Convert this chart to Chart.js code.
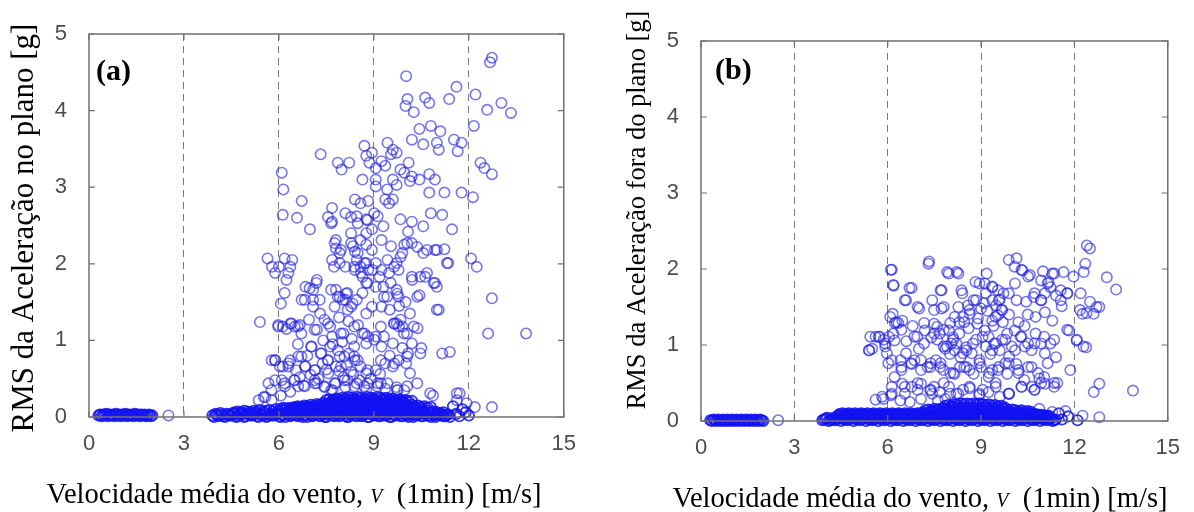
<!DOCTYPE html>
<html lang="pt">
<head>
<meta charset="UTF-8">
<title>RMS da aceleração x velocidade do vento</title>
<script src="https://cdn.jsdelivr.net/npm/chart.js"></script>
<style>
  body { margin: 0; background: #fff; }
  .panel { position: absolute; top: 0; height: 512px; }
  #panelA { left: 0; width: 590px; }
  #panelB { left: 590px; width: 604px; }
</style>
</head>
<body>
<div class="panel" id="panelA"><canvas id="chartA"></canvas></div>
<div class="panel" id="panelB"><canvas id="chartB"></canvas></div>
<script>
const xTicks = [0, 3, 6, 9, 12, 15];
const yTicks = [0, 1, 2, 3, 4, 5];
const xTitle = ['Velocidade média do vento, ', 'V', '  (1min) [m/s]'];
const yTitleA = 'RMS da Aceleração no plano [g]';
const yTitleB = 'RMS da Aceleração fora do plano [g]';

// (a) points standing above the baseline band, [velocity m/s, rms g]
const scatterA = [
  [12.73,4.69],[12.67,4.63],[10.02,4.45],[11.61,4.31],[10.06,4.15],[10.0,4.06],[10.62,4.17],[10.75,4.10],
  [11.38,4.15],[12.21,4.21],[13.03,4.10],[13.33,3.97],[12.58,4.01],[10.26,3.98],[12.16,3.80],[10.44,3.76],
  [10.8,3.80],[11.1,3.73],[10.2,3.62],[10.56,3.56],[10.99,3.58],[11.05,3.49],[11.53,3.62],[11.77,3.58],
  [11.65,3.47],[9.43,3.58],[9.6,3.49],[9.54,3.43],[8.7,3.54],[8.94,3.45],[9.72,3.45],[7.32,3.43],
  [7.86,3.32],[8.22,3.32],[7.98,3.23],[8.76,3.41],[8.86,3.32],[9.24,3.34],[9.36,3.28],[9.06,3.25],
  [10.1,3.32],[9.84,3.23],[9.96,3.19],[10.2,3.14],[10.14,3.08],[10.75,3.17],[10.93,3.10],[10.44,3.10],
  [9.6,3.10],[9.72,3.03],[9.42,2.97],[9.06,3.10],[8.64,3.10],[9.06,3.01],[12.37,3.32],[12.49,3.25],
  [12.73,3.17],[6.09,3.19],[6.14,2.97],[10.75,2.93],[11.23,2.93],[11.77,2.93],[12.13,2.87],[9.36,2.84],
  [9.48,2.79],[9.6,2.84],[8.4,2.84],[8.58,2.79],[8.82,2.82],[6.72,2.82],[7.68,2.73],[8.1,2.66],
  [8.46,2.62],[8.76,2.58],[9.12,2.62],[9.3,2.49],[6.12,2.64],[6.57,2.60],[7.68,2.55],[6.98,2.45],
  [9.84,2.58],[10.2,2.55],[10.08,2.42],[10.56,2.49],[10.8,2.66],[11.16,2.64],[11.47,2.45],[8.28,2.40],
  [8.76,2.40],[8.94,2.45],[9.24,2.31],[8.58,2.31],[7.8,2.31],[7.8,2.20],[7.92,2.14],[8.34,2.23],
  [8.4,2.16],[8.76,2.25],[8.94,2.18],[9.54,2.23],[9.96,2.25],[10.2,2.27],[9.9,2.14],[10.56,2.14],
  [10.93,2.18],[11.23,2.19],[5.64,2.07],[5.78,1.96],[6.18,2.07],[6.42,2.05],[6.36,1.96],[6.0,1.96],
  [5.88,1.88],[6.3,1.88],[6.24,1.79],[7.68,2.05],[7.92,2.01],[7.74,1.96],[8.1,1.96],[8.46,2.05],
  [8.58,1.96],[8.76,2.01],[8.4,1.92],[8.82,1.92],[8.64,1.83],[9.06,2.01],[9.24,1.92],[9.18,1.83],
  [9.72,2.01],[9.78,1.92],[9.48,1.88],[12.07,2.07],[12.25,1.96],[11.35,2.01],[10.2,1.83],[10.62,1.83],
  [10.93,1.75],[10.99,1.70],[7.2,1.79],[6.84,1.70],[7.08,1.66],[6.72,1.53],[7.08,1.53],[6.18,1.62],
  [7.8,1.66],[7.92,1.57],[8.16,1.62],[8.1,1.53],[8.46,1.53],[8.64,1.62],[8.76,1.75],[9.06,1.70],
  [9.3,1.70],[9.72,1.66],[9.78,1.57],[9.42,1.57],[10.44,1.59],[12.73,1.55],[6.06,1.48],[8.28,1.44],
  [8.76,1.35],[8.94,1.44],[9.24,1.44],[5.4,1.24],[11.05,1.40],[10.14,1.35],[6.12,1.18],[6.36,1.22],
  [6.6,1.18],[6.95,1.27],[7.2,1.14],[7.44,1.27],[7.62,1.18],[7.68,1.05],[8.04,1.09],[8.64,1.09],
  [8.76,0.96],[9.06,1.05],[9.24,0.92],[9.6,0.96],[9.72,1.22],[9.9,1.18],[9.84,1.27],[10.38,1.16],
  [12.61,1.09],[13.81,1.09],[10.5,0.90],[10.2,0.96],[10.08,0.83],[11.16,0.83],[11.4,0.85],[7.02,0.92],
  [7.32,0.83],[7.62,0.92],[7.92,0.79],[8.22,0.83],[8.4,0.74],[5.88,0.74],[6.12,0.66],[6.36,0.74],
  [6.54,0.61],[6.84,0.66],[6.66,0.52],[7.14,0.61],[7.38,0.70],[7.56,0.57],[7.8,0.66],[8.04,0.52],
  [8.28,0.59],[8.58,0.66],[8.76,0.57],[9.06,0.61],[9.36,0.70],[9.6,0.66],[9.78,0.74],[10.02,0.70],
  [10.14,0.57],[5.88,0.48],[6.18,0.44],[6.48,0.48],[6.78,0.41],[7.2,0.44],[7.44,0.39],[7.8,0.44],
  [8.1,0.39],[8.46,0.44],[8.76,0.35],[9.12,0.44],[9.36,0.37],[9.72,0.39],[9.96,0.35],[5.52,0.26],
  [5.76,0.35],[6.06,0.28],[6.36,0.33],[10.87,0.28],[11.71,0.31],[12.19,0.13],[12.73,0.13],[2.51,0.02],
  [5.98,1.20],[6.24,1.15],[6.5,1.18],[6.66,1.20],[6.97,1.68],[7.18,1.75],[6.82,1.53],[7.08,1.44],
  [7.29,1.53],[7.65,1.66],[7.86,1.57],[7.76,1.44],[8.02,1.53],[8.12,1.61],[8.33,1.48],[8.17,1.40],
  [7.76,2.27],[7.96,2.18],[8.28,2.27],[8.49,2.14],[8.38,1.96],[8.7,2.01],[8.59,1.88],[8.96,1.92],
  [8.8,1.75],[7.55,2.61],[7.65,2.53],[8.28,2.61],[8.49,2.53],[8.8,2.57],[9.01,2.66],[9.43,2.05],
  [9.64,1.96],[9.84,2.09],[9.53,1.75],[9.74,1.61],[9.32,1.57],[10.21,1.79],[10.47,1.83],[10.68,1.88],
  [10.89,1.75],[10.37,1.57],[10.99,1.40],[10.05,2.27],[10.37,2.22],[10.68,2.18],[10.99,2.18],[11.31,2.01],
  [8.7,1.09],[9.01,1.01],[9.32,1.05],[9.64,1.22],[9.79,1.18],[10.05,1.09],[10.26,1.18],[7.03,0.92],
  [7.34,0.83],[7.55,0.74],[7.86,0.87],[8.07,0.79],[8.38,0.92],[8.49,0.74],[5.77,0.74],[6.03,0.66],
  [6.3,0.70],[6.61,0.79],[6.82,0.66],[5.67,0.44],[6.19,0.40],[6.5,0.48],[6.82,0.40],[7.13,0.48],
  [7.44,0.40],[7.76,0.44],[8.07,0.48],[8.38,0.40],[8.8,0.44],[9.11,0.40],[9.43,0.44],[9.74,0.35],
  [10.05,0.40],[10.37,0.44],[10.78,0.31],[11.62,0.31],[5.36,0.22],[5.57,0.26],[5.77,0.22],[11.62,0.22],
  [11.93,0.18],[7.0,0.55],[7.25,0.50],[7.5,0.62],[7.7,0.35],[7.9,0.60],[8.15,0.68],[8.35,0.55],
  [8.55,0.48],[8.9,0.50],[9.2,0.56],[6.9,0.80],[7.4,1.00],[7.7,0.95],[8.0,0.98],[8.3,1.02],
  [8.5,1.20],[8.2,1.25],[7.9,1.30],[7.3,1.35],[6.6,0.95],[9.5,0.80],[9.9,0.90],[9.5,1.40],
  [9.8,1.45],[10.0,1.50],
  [5.98,1.18],[6.40,1.22],[6.71,1.09],[7.13,1.14],[7.55,1.22],[7.96,1.09],[8.38,1.18],[8.8,1.05],
  [9.22,1.18],[9.64,1.22],[9.95,1.09],[5.88,0.74],[6.30,0.66],[6.71,0.79],[7.13,0.61],[7.55,0.74],
  [7.96,0.66],[8.38,0.79],[8.8,0.61],[9.22,0.74],[9.64,0.70],[10.05,0.79],[10.47,0.83],[6.09,0.48],
  [6.61,0.40],[7.13,0.44],[7.65,0.35],[8.17,0.48],[8.7,0.40],[9.22,0.44],[9.74,0.35]
];

// (a) the crowded band of low readings along zero
const bandA = [
  [0.30,0.02],[0.35,0.03],[0.40,0.01],[0.45,0.03],[0.50,0.02],[0.55,0.04],[0.60,0.01],[0.65,0.03],[0.70,0.02],
  [0.75,0.03],[0.80,0.01],[0.85,0.04],[0.90,0.02],[0.95,0.03],[1.00,0.01],[1.05,0.03],[1.10,0.02],[1.15,0.04],
  [1.20,0.01],[1.25,0.03],[1.30,0.02],[1.35,0.03],[1.40,0.01],[1.45,0.04],[1.50,0.02],[1.55,0.03],[1.60,0.01],
  [1.65,0.03],[1.70,0.02],[1.75,0.03],[1.80,0.01],[1.85,0.02],[1.90,0.03],[1.95,0.01],[2.00,0.02],
  [3.9,0.02],[4.0,0.04],[4.1,0.01],[4.2,0.03],[4.3,0.0],[4.4,0.03],[4.5,0.02],[4.6,0.04],[4.7,0.01],[4.8,0.03],
  [4.9,0.0],[5.0,0.04],[5.1,0.02],[5.2,0.03],[5.3,0.01],[5.4,0.04],[5.5,0.02],[5.6,0.0],[5.7,0.03],[5.8,0.02],
  [5.9,0.04],[6.0,0.01],[6.1,0.03],[6.2,0.0],[6.3,0.04],[6.4,0.02],[6.5,0.03],[6.6,0.01],[6.7,0.04],[6.8,0.02],
  [6.9,0.0],[7.0,0.03],[7.1,0.02],[7.2,0.04],[7.3,0.01],[7.4,0.03],[7.5,0.0],[7.6,0.04],[7.7,0.02],[7.8,0.03],
  [7.9,0.01],[8.0,0.04],[8.1,0.02],[8.2,0.0],[8.3,0.03],[8.4,0.02],[8.5,0.04],[8.6,0.01],[8.7,0.03],[8.8,0.0],
  [8.9,0.04],[9.0,0.02],[9.1,0.03],[9.2,0.01],[9.3,0.04],[9.4,0.02],[9.5,0.0],[9.6,0.03],[9.7,0.02],[9.8,0.04],
  [9.9,0.01],[10.0,0.03],[10.1,0.0],[10.2,0.04],[10.3,0.02],[10.4,0.03],[10.5,0.01],[10.6,0.04],[10.7,0.02],
  [10.8,0.0],[10.9,0.03],[11.0,0.02],[11.1,0.04],[11.2,0.01],[11.3,0.03],[11.4,0.0],
  [3.95,0.0],[4.05,0.03],[4.15,0.05],[4.25,0.01],[4.35,0.04],[4.45,0.02],[4.55,0.05],[4.65,0.0],[4.75,0.03],
  [4.85,0.05],[4.95,0.01],[5.05,0.04],[5.15,0.02],[5.25,0.05],[5.35,0.0],[5.45,0.03],[5.55,0.05],[5.65,0.01],
  [5.75,0.04],[5.85,0.02],[5.95,0.05],[6.05,0.0],[6.15,0.03],[6.25,0.05],[6.35,0.01],[6.45,0.04],[6.55,0.02],
  [6.65,0.05],[6.75,0.0],[6.85,0.03],[6.95,0.05],[7.05,0.01],[7.15,0.04],[7.25,0.02],[7.35,0.05],[7.45,0.0],
  [7.55,0.03],[7.65,0.05],[7.75,0.01],[7.85,0.04],[7.95,0.02],[8.05,0.05],[8.15,0.0],[8.25,0.03],[8.35,0.05],
  [8.45,0.01],[8.55,0.04],[8.65,0.02],[8.75,0.05],[8.85,0.0],[8.95,0.03],[9.05,0.05],[9.15,0.01],[9.25,0.04],
  [9.35,0.02],[9.45,0.05],[9.55,0.0],[9.65,0.03],[9.75,0.05],[9.85,0.01],[9.95,0.04],[10.05,0.02],[10.15,0.05],
  [10.25,0.0],[10.35,0.03],[10.45,0.05],[10.55,0.01],[10.65,0.04],[10.75,0.02],[10.85,0.05],[10.95,0.0],
  [11.05,0.03],[11.15,0.02],[11.25,0.01],[11.35,0.03],
  [4.6,0.06],[4.7,0.07],[4.8,0.06],[4.9,0.08],[5.0,0.07],[5.1,0.06],[5.2,0.08],[5.3,0.07],[5.4,0.09],[5.5,0.07],
  [5.6,0.08],[5.7,0.09],[5.8,0.07],[5.9,0.10],[6.0,0.08],[6.1,0.09],[6.2,0.10],[6.3,0.08],[6.4,0.10],[6.5,0.09],
  [6.6,0.11],[6.7,0.09],[6.8,0.10],[6.9,0.11],[7.0,0.09],[7.1,0.10],[7.2,0.11],[7.3,0.09],[7.4,0.10],[7.5,0.11],
  [7.6,0.10],[7.7,0.09],[7.8,0.11],[7.9,0.10],[8.0,0.11],[8.1,0.09],[8.2,0.10],[8.3,0.11],[8.4,0.10],[8.5,0.09],
  [8.6,0.11],[8.7,0.10],[8.8,0.11],[8.9,0.09],[9.0,0.10],[9.1,0.11],[9.2,0.10],[9.3,0.09],[9.4,0.11],[9.5,0.10],
  [9.6,0.09],[9.7,0.11],[9.8,0.10],[9.9,0.09],[10.0,0.10],[10.1,0.08],[10.2,0.10],[10.3,0.09],[10.4,0.08],
  [10.5,0.09],[10.6,0.07],[10.7,0.08],[10.8,0.06],[10.9,0.07],[11.0,0.06],[11.1,0.05],[11.2,0.06],
  [6.05,0.11],[6.15,0.12],[6.25,0.11],[6.35,0.12],[6.45,0.12],[6.55,0.11],[6.65,0.12],[6.75,0.13],[6.85,0.12],
  [6.95,0.13],[7.05,0.12],[7.15,0.13],[7.25,0.14],[7.35,0.13],[7.45,0.14],[7.55,0.13],[7.65,0.14],[7.75,0.15],
  [7.85,0.14],[7.95,0.15],[8.05,0.14],[8.15,0.15],[8.25,0.14],[8.35,0.15],[8.45,0.14],[8.55,0.15],[8.65,0.14],
  [8.75,0.15],[8.85,0.14],[8.95,0.15],[9.05,0.14],[9.15,0.15],[9.25,0.14],[9.35,0.15],[9.45,0.14],[9.55,0.13],
  [9.65,0.14],[9.75,0.13],[9.85,0.14],[9.95,0.13],[10.05,0.12],[10.15,0.13],[10.25,0.12],[10.35,0.11],[10.45,0.12],
  [6.5,0.13],[6.6,0.14],[6.7,0.13],[6.8,0.15],[6.9,0.14],[7.0,0.16],[7.1,0.15],[7.2,0.17],[7.3,0.16],[7.4,0.18],
  [7.5,0.17],[7.6,0.18],[7.7,0.17],[7.8,0.19],[7.9,0.18],[8.0,0.19],[8.1,0.18],[8.2,0.19],[8.3,0.17],[8.4,0.19],
  [8.5,0.18],[8.6,0.19],[8.7,0.17],[8.8,0.19],[8.9,0.18],[9.0,0.19],[9.1,0.18],[9.2,0.19],[9.3,0.17],[9.4,0.18],
  [9.5,0.19],[9.6,0.17],[9.7,0.18],[9.8,0.16],[9.9,0.17],[10.0,0.16],[10.1,0.15],[10.2,0.16],[10.3,0.14],
  [10.4,0.15],[10.5,0.13],[10.6,0.14],[10.7,0.12],[10.8,0.13],
  [7.65,0.20],[7.75,0.21],[7.85,0.20],[7.95,0.21],[8.05,0.22],[8.15,0.21],[8.25,0.22],[8.35,0.21],[8.45,0.22],
  [8.55,0.21],[8.65,0.22],[8.75,0.21],[8.85,0.22],[8.95,0.21],[9.05,0.22],[9.15,0.21],[9.25,0.22],[9.35,0.21],
  [9.45,0.20],[9.55,0.21],[9.65,0.20],[9.75,0.19],[9.85,0.20],[9.95,0.19],
  [7.5,0.22],[7.6,0.23],[7.7,0.22],[7.8,0.24],[7.9,0.23],[8.0,0.25],[8.1,0.24],[8.2,0.26],[8.3,0.25],[8.4,0.24],
  [8.5,0.26],[8.6,0.25],[8.7,0.24],[8.8,0.26],[8.9,0.25],[9.0,0.24],[9.1,0.26],[9.2,0.25],[9.3,0.24],[9.4,0.25],
  [9.5,0.23],[9.6,0.24],[9.7,0.22],[9.8,0.23],[9.9,0.21],[10.0,0.22],[10.1,0.20],[10.2,0.21],
  [11.6,0.04],[11.8,0.10],[12.0,0.02],[11.9,0.06],[11.5,0.14],[11.7,0.01]
];

// (b) points above the baseline band
const scatterB = [
  [12.4,2.31],[12.5,2.27],[12.35,2.07],[7.31,2.07],[10.14,2.14],[10.08,2.03],[10.33,1.98],[10.57,1.92],
  [10.99,1.97],[11.29,1.94],[11.65,1.96],[10.93,1.85],[11.17,1.83],[12.3,1.96],[13.04,1.89],[13.34,1.73],
  [6.1,1.99],[6.19,1.78],[7.91,1.96],[8.27,1.94],[9.18,1.94],[8.82,1.83],[9.12,1.81],[9.36,1.76],
  [9.54,1.72],[9.72,1.68],[6.77,1.75],[6.59,1.59],[7.01,1.48],[7.73,1.72],[7.43,1.59],[7.73,1.48],
  [8.4,1.68],[8.27,1.50],[8.58,1.52],[8.76,1.59],[9.0,1.48],[9.36,1.59],[9.48,1.52],[9.66,1.46],
  [9.54,1.39],[9.36,1.32],[10.14,1.59],[10.45,1.57],[10.69,1.63],[10.93,1.59],[11.05,1.68],[11.23,1.76],
  [11.41,1.65],[11.77,1.68],[11.59,1.51],[12.2,1.68],[12.5,1.57],[12.8,1.50],[12.26,1.41],[12.62,1.41],
  [10.75,1.37],[11.05,1.43],[11.29,1.32],[6.16,1.41],[6.28,1.30],[6.47,1.32],[6.04,1.11],[6.22,1.06],
  [5.5,0.95],[5.74,1.11],[5.92,1.02],[5.44,1.11],[6.95,1.11],[7.19,1.19],[7.49,1.28],[7.67,1.15],
  [7.97,1.19],[8.04,1.02],[7.85,0.95],[8.15,0.93],[8.52,0.97],[8.7,0.89],[8.34,0.84],[8.15,1.37],
  [8.46,1.30],[8.64,1.41],[8.88,1.28],[9.12,1.19],[9.24,1.11],[9.42,1.02],[9.6,0.93],[9.84,1.15],
  [10.08,1.19],[10.27,1.11],[10.51,1.02],[10.75,1.15],[11.05,0.89],[11.23,1.02],[11.41,0.84],[11.83,1.19],
  [12.07,1.06],[12.38,0.97],[6.59,0.89],[6.41,0.80],[6.77,0.75],[7.07,0.80],[7.37,0.71],[7.55,0.80],
  [7.79,0.67],[8.15,0.62],[8.46,0.71],[8.76,0.62],[9.0,0.71],[9.24,0.58],[9.54,0.67],[9.84,0.62],
  [10.14,0.75],[10.39,0.54],[10.63,0.45],[10.87,0.56],[11.05,0.49],[11.35,0.45],[12.62,0.38],[12.8,0.49],
  [13.88,0.40],[6.22,0.58],[6.47,0.49],[6.77,0.45],[7.07,0.49],[7.37,0.40],[7.67,0.38],[7.97,0.45],
  [8.27,0.36],[8.64,0.43],[8.94,0.34],[9.24,0.38],[9.6,0.32],[9.9,0.36],[5.86,0.29],[6.1,0.34],
  [6.41,0.27],[6.71,0.25],[7.07,0.29],[7.43,0.36],[7.61,0.27],[7.85,0.29],[2.48,0.01],[11.71,0.13],
  [12.8,0.05],[12.26,0.07],[10.87,0.16],[11.29,0.12],
  [6.13,1.99],[6.18,1.79],[6.08,1.37],[6.34,1.29],[6.18,1.15],[5.61,1.11],[5.4,0.93],[5.87,1.07],
  [5.97,0.89],[7.33,2.10],[7.96,1.94],[8.22,1.96],[7.7,1.72],[8.37,1.72],[6.7,1.75],[6.55,1.59],
  [6.96,1.50],[7.49,1.46],[7.8,1.50],[7.17,1.29],[7.59,1.24],[8.01,1.29],[8.42,1.37],[8.63,1.46],
  [8.84,1.59],[9.15,1.68],[8.95,1.81],[9.36,1.77],[9.57,1.59],[9.68,1.46],[9.47,1.37],[9.89,1.68],
  [10.09,1.81],[9.89,2.12],[10.3,1.99],[10.51,1.90],[10.72,1.68],[10.93,1.59],[11.14,1.81],[11.35,1.94],
  [11.56,1.72],[11.77,1.68],[11.97,1.90],[12.71,1.50],[11.56,1.59],[12.18,1.46],[12.39,1.42],[7.59,1.07],
  [7.9,0.98],[8.21,1.02],[8.53,0.93],[8.84,1.07],[9.15,0.98],[9.47,1.02],[9.78,1.07],[10.09,0.93],
  [10.41,0.98],[10.72,1.02],[11.03,1.11],[11.35,1.07],[11.77,1.20],[12.08,1.07],[12.29,0.98],[6.13,0.80],
  [6.44,0.71],[6.75,0.76],[7.07,0.67],[7.38,0.76],[7.69,0.71],[8.01,0.63],[8.32,0.71],[8.63,0.67],
  [8.95,0.76],[9.26,0.63],[9.57,0.71],[9.89,0.76],[10.2,0.67],[10.51,0.71],[10.83,0.63],[11.14,0.76],
  [11.35,0.50],[10.93,0.50],[5.61,0.28],[5.82,0.32],[6.13,0.36],[6.55,0.45],[6.96,0.41],[7.49,0.45],
  [8.01,0.36],[8.42,0.41],[8.95,0.36],[9.47,0.45],[9.89,0.36],[10.3,0.45],[10.72,0.41],
  [6.23,1.29],[6.44,1.20],[5.71,1.11],[5.40,0.93],[5.92,0.98],[6.86,1.11],[7.17,1.02],[7.49,1.15],
  [7.8,0.98],[8.11,1.07],[8.42,0.89],[8.74,1.02],[9.05,1.11],[9.36,0.93],[9.68,1.07],[9.99,0.98],
  [10.3,1.11],[10.62,0.93],[10.93,1.02],[6.02,0.76],[6.44,0.67],[6.86,0.80],[7.28,0.71],[7.7,0.76],
  [8.11,0.63],[8.53,0.71],[8.95,0.80],[9.36,0.67],[9.78,0.76],[10.2,0.63],[10.62,0.71],[11.03,0.58],
  [11.45,0.50],[11.87,0.67],[6.13,0.45],[6.55,0.36],[6.96,0.50],[7.38,0.41],[7.8,0.50],[8.21,0.36],
  [8.63,0.45],[9.05,0.41],[9.47,0.50],[9.89,0.36],[10.3,0.45],[10.72,0.41],[8.3,1.15],[8.6,1.22],
  [8.9,1.35],[9.2,1.45],[9.4,1.25],[9.7,1.30],[9.9,1.40],[8.1,1.10],[9.1,1.55],[9.6,1.60],
  [8.0,0.88],[8.3,1.30],[9.3,0.88],[9.9,0.85],[10.2,1.30],[10.5,1.40],[10.4,1.25],[7.8,1.20],
  [7.4,1.10],[7.0,0.95],[6.8,1.25],[6.6,1.05]
];

// (b) baseline band
const bandB = [
  [0.30,0.01],[0.35,0.0],[0.40,0.02],[0.45,0.01],[0.50,0.0],[0.55,0.02],[0.60,0.01],[0.65,0.0],[0.70,0.02],
  [0.75,0.01],[0.80,0.0],[0.85,0.02],[0.90,0.01],[0.95,0.0],[1.00,0.02],[1.05,0.01],[1.10,0.0],[1.15,0.02],
  [1.20,0.01],[1.25,0.0],[1.30,0.02],[1.35,0.01],[1.40,0.0],[1.45,0.02],[1.50,0.01],[1.55,0.0],[1.60,0.02],
  [1.65,0.01],[1.70,0.0],[1.75,0.02],[1.80,0.01],[1.85,0.0],[1.90,0.02],[1.95,0.01],[2.00,0.0],
  [3.9,0.01],[4.0,0.03],[4.1,0.0],[4.2,0.02],[4.3,0.01],[4.4,0.03],[4.5,0.0],[4.6,0.02],[4.7,0.01],[4.8,0.03],
  [4.9,0.0],[5.0,0.02],[5.1,0.01],[5.2,0.03],[5.3,0.0],[5.4,0.02],[5.5,0.01],[5.6,0.03],[5.7,0.0],[5.8,0.02],
  [5.9,0.01],[6.0,0.03],[6.1,0.0],[6.2,0.02],[6.3,0.01],[6.4,0.03],[6.5,0.0],[6.6,0.02],[6.7,0.01],[6.8,0.03],
  [6.9,0.0],[7.0,0.02],[7.1,0.01],[7.2,0.03],[7.3,0.0],[7.4,0.02],[7.5,0.01],[7.6,0.03],[7.7,0.0],[7.8,0.02],
  [7.9,0.01],[8.0,0.03],[8.1,0.0],[8.2,0.02],[8.3,0.01],[8.4,0.03],[8.5,0.0],[8.6,0.02],[8.7,0.01],[8.8,0.03],
  [8.9,0.0],[9.0,0.02],[9.1,0.01],[9.2,0.03],[9.3,0.0],[9.4,0.02],[9.5,0.01],[9.6,0.03],[9.7,0.0],[9.8,0.02],
  [9.9,0.01],[10.0,0.03],[10.1,0.0],[10.2,0.02],[10.3,0.01],[10.4,0.03],[10.5,0.0],[10.6,0.02],[10.7,0.01],
  [10.8,0.03],[10.9,0.0],[11.0,0.02],[11.1,0.01],[11.2,0.03],[11.3,0.0],[11.4,0.02],
  [3.95,0.02],[4.05,0.04],[4.15,0.01],[4.25,0.04],[4.35,0.02],[4.45,0.05],[4.55,0.03],[4.65,0.05],[4.75,0.02],
  [4.85,0.05],[4.95,0.03],[5.05,0.05],[5.15,0.02],[5.25,0.05],[5.35,0.03],[5.45,0.05],[5.55,0.02],[5.65,0.05],
  [5.75,0.03],[5.85,0.05],[5.95,0.02],[6.05,0.05],[6.15,0.03],[6.25,0.05],[6.35,0.02],[6.45,0.05],[6.55,0.03],
  [6.65,0.05],[6.75,0.02],[6.85,0.05],[6.95,0.03],[7.05,0.05],[7.15,0.02],[7.25,0.05],[7.35,0.03],[7.45,0.05],
  [7.55,0.02],[7.65,0.05],[7.75,0.03],[7.85,0.05],[7.95,0.02],[8.05,0.05],[8.15,0.03],[8.25,0.05],[8.35,0.02],
  [8.45,0.05],[8.55,0.03],[8.65,0.05],[8.75,0.02],[8.85,0.05],[8.95,0.03],[9.05,0.05],[9.15,0.02],[9.25,0.05],
  [9.35,0.03],[9.45,0.05],[9.55,0.02],[9.65,0.05],[9.75,0.03],[9.85,0.05],[9.95,0.02],[10.05,0.05],[10.15,0.03],
  [10.25,0.05],[10.35,0.02],[10.45,0.05],[10.55,0.03],[10.65,0.05],[10.75,0.02],[10.85,0.04],[10.95,0.03],
  [11.05,0.04],[11.15,0.02],[11.25,0.03],[11.35,0.01],
  [4.4,0.07],[4.5,0.08],[4.6,0.07],[4.7,0.08],[4.8,0.07],[4.9,0.08],[5.0,0.07],[5.1,0.08],[5.2,0.07],[5.3,0.08],
  [5.4,0.07],[5.5,0.08],[5.6,0.07],[5.7,0.08],[5.8,0.07],[5.9,0.08],[6.0,0.07],[6.1,0.08],[6.2,0.07],[6.3,0.08],
  [6.4,0.07],[6.5,0.08],[6.6,0.07],[6.7,0.08],[6.8,0.07],[6.9,0.08],[7.0,0.07],[7.1,0.08],[7.2,0.07],[7.3,0.08],
  [7.4,0.08],[7.5,0.09],[7.6,0.08],[7.7,0.09],[7.8,0.08],[7.9,0.09],[8.0,0.09],[8.1,0.08],[8.2,0.09],[8.3,0.08],
  [8.4,0.09],[8.5,0.08],[8.6,0.09],[8.7,0.08],[8.8,0.09],[8.9,0.08],[9.0,0.09],[9.1,0.08],[9.2,0.09],[9.3,0.08],
  [9.4,0.09],[9.5,0.08],[9.6,0.09],[9.7,0.08],[9.8,0.09],[9.9,0.08],[10.0,0.08],[10.1,0.07],[10.2,0.08],
  [10.3,0.07],[10.4,0.08],[10.5,0.07],[10.6,0.08],[10.7,0.07],[10.8,0.06],[10.9,0.07],[11.0,0.06],[11.1,0.05],
  [11.2,0.06],
  [4.45,0.09],[4.55,0.10],[4.65,0.09],[4.75,0.10],[4.85,0.09],[4.95,0.10],[5.05,0.09],[5.15,0.10],[5.25,0.09],
  [5.35,0.10],[5.45,0.09],[5.55,0.10],[5.65,0.09],[5.75,0.10],[5.85,0.09],[5.95,0.10],[6.05,0.09],[6.15,0.10],
  [6.25,0.09],[6.35,0.10],[6.45,0.09],[6.55,0.10],[6.65,0.09],[6.75,0.10],[6.85,0.09],[6.95,0.10],[7.05,0.10],
  [7.15,0.11],[7.25,0.10],[7.35,0.11],[7.45,0.12],[7.55,0.11],[7.65,0.12],[7.75,0.13],[7.85,0.12],[7.95,0.13],
  [8.05,0.12],[8.15,0.13],[8.25,0.12],[8.35,0.13],[8.45,0.12],[8.55,0.13],[8.65,0.12],[8.75,0.13],[8.85,0.12],
  [8.95,0.13],[9.05,0.12],[9.15,0.13],[9.25,0.12],[9.35,0.13],[9.45,0.12],[9.55,0.12],[9.65,0.11],[9.75,0.12],
  [9.85,0.11],[9.95,0.11],[10.05,0.10],[10.15,0.11],[10.25,0.10],[10.35,0.10],[10.45,0.09],[10.55,0.10],
  [10.65,0.09],[10.75,0.09],[10.85,0.08],[10.95,0.08],[11.05,0.07],[11.15,0.07],
  [7.2,0.14],[7.3,0.15],[7.4,0.14],[7.5,0.16],[7.6,0.15],[7.7,0.16],[7.8,0.17],[7.9,0.16],[8.0,0.17],[8.1,0.18],
  [8.2,0.17],[8.3,0.18],[8.4,0.17],[8.5,0.18],[8.6,0.17],[8.7,0.18],[8.8,0.17],[8.9,0.18],[9.0,0.17],[9.1,0.18],
  [9.2,0.17],[9.3,0.16],[9.4,0.17],[9.5,0.16],[9.6,0.15],[9.7,0.16],[9.8,0.15],[9.9,0.14],[10.0,0.15],[10.1,0.14],
  [10.2,0.13],[10.3,0.14],[10.4,0.12],[10.5,0.13],[10.6,0.12],
  [7.85,0.20],[7.95,0.21],[8.05,0.20],[8.15,0.22],[8.25,0.21],[8.35,0.23],[8.45,0.22],[8.55,0.23],[8.65,0.22],
  [8.75,0.23],[8.85,0.22],[8.95,0.23],[9.05,0.22],[9.15,0.21],[9.25,0.22],[9.35,0.20],[9.45,0.21],[9.55,0.19],
  [9.65,0.20],[9.75,0.18],
  [11.6,0.02],[11.8,0.06],[12.1,0.01],[11.5,0.10]
];

const serif = '"Liberation Serif", "Times New Roman", serif';

// frame with inward ticks, panel letter and the axis titles
const panelDecor = {
  id: 'panelDecor',
  afterDraw(chart, args, o) {
    const {ctx, chartArea: a} = chart;
    const sx = chart.scales.x, sy = chart.scales.y;
    ctx.save();
    ctx.strokeStyle = '#707070';
    ctx.lineWidth = 1.5;
    ctx.strokeRect(a.left, a.top, a.width, a.height);
    ctx.lineWidth = 1.2;
    ctx.beginPath();
    sx.ticks.forEach(t => {
      const p = sx.getPixelForValue(t.value);
      ctx.moveTo(p, a.bottom); ctx.lineTo(p, a.bottom - 6);
      ctx.moveTo(p, a.top); ctx.lineTo(p, a.top + 6);
    });
    sy.ticks.forEach(t => {
      const p = sy.getPixelForValue(t.value);
      ctx.moveTo(a.left, p); ctx.lineTo(a.left + 6, p);
      ctx.moveTo(a.right, p); ctx.lineTo(a.right - 6, p);
    });
    ctx.stroke();

    ctx.fillStyle = '#000';
    ctx.font = 'bold 30px ' + serif;
    ctx.textAlign = 'left';
    ctx.textBaseline = 'middle';
    ctx.fillText(o.label, a.left + o.labelDx, o.labelY);

    ctx.save();
    ctx.translate(o.yTitleX, o.yTitleY);
    ctx.rotate(-Math.PI / 2);
    ctx.textAlign = 'center';
    ctx.font = o.yTitleSize + 'px ' + serif;
    ctx.fillText(o.yTitle, 0, 0);
    ctx.restore();

    // x title: the V is set smaller and in italics
    const big = o.xTitleSize + 'px ' + serif;
    const small = 'italic ' + Math.round(o.xTitleSize * 0.7) + 'px ' + serif;
    const fonts = [big, small, big];
    const widths = xTitle.map((s, i) => { ctx.font = fonts[i]; return ctx.measureText(s).width; });
    let x = o.xTitleX - widths.reduce((p, c) => p + c, 0) / 2;
    ctx.textBaseline = 'alphabetic';
    xTitle.forEach((s, i) => {
      ctx.font = fonts[i];
      ctx.fillText(s, x, o.xTitleY);
      x += widths[i];
    });
    ctx.restore();
  }
};

function makeChart(canvasId, scatter, band, box, decor) {
  const toXY = arr => arr.map(p => ({x: p[0], y: p[1]}));
  const ring = { clip: false, pointStyle: 'circle', pointRadius: 5.2, backgroundColor: 'rgba(0, 0, 0, 0)' };
  return new Chart(document.getElementById(canvasId), {
    type: 'scatter',
    data: {
      datasets: [
        // the crowded low band overlaps so much that it reads as solid blue
        Object.assign({ data: toXY(band), borderWidth: 1.8, borderColor: 'rgba(18, 18, 242, 0.85)' }, ring),
        Object.assign({ data: toXY(scatter), borderWidth: 1.6, borderColor: 'rgba(35, 35, 222, 0.62)' }, ring)
      ]
    },
    options: {
      responsive: true,
      maintainAspectRatio: false,
      devicePixelRatio: 1,
      animation: false,
      events: [],
      layout: { padding: { top: box.top, right: box.width - box.right, left: 0, bottom: 0 } },
      plugins: { legend: { display: false }, tooltip: { enabled: false }, panelDecor: decor },
      scales: {
        x: {
          type: 'linear',
          min: xTicks[0],
          max: xTicks[xTicks.length - 1],
          afterBuildTicks: s => { s.ticks = xTicks.map(v => ({value: v})); },
          afterFit: s => { s.height = 512 - box.bottom; },
          ticks: { padding: 14, color: '#4d4d4d', font: { family: '"Liberation Sans", Arial, sans-serif', size: 22 } },
          grid: {
            drawTicks: false,
            lineWidth: 1,
            color: c => (c.tick && (c.tick.value === 0 || c.tick.value === 15)) ? 'rgba(0,0,0,0)' : '#7a7a7a'
          },
          border: { display: false, dash: [7, 5] }
        },
        y: {
          type: 'linear',
          min: yTicks[0],
          max: yTicks[yTicks.length - 1],
          afterBuildTicks: s => { s.ticks = yTicks.map(v => ({value: v})); },
          afterFit: s => { s.width = box.left; },
          ticks: { padding: 14, color: '#4d4d4d', font: { family: '"Liberation Sans", Arial, sans-serif', size: 22 } },
          grid: { display: false },
          border: { display: false }
        }
      }
    },
    plugins: [panelDecor]
  });
}

makeChart('chartA', scatterA, bandA,
  { width: 590, left: 89, right: 568, top: 34, bottom: 417 },
  { label: '(a)', labelDx: 7, labelY: 72, yTitle: yTitleA, yTitleX: 25, yTitleY: 228, yTitleSize: 31,
    xTitleX: 294, xTitleY: 503, xTitleSize: 28.5 });

makeChart('chartB', scatterB, bandB,
  { width: 604, left: 111, right: 590, top: 41, bottom: 421 },
  { label: '(b)', labelDx: 14, labelY: 71, yTitle: yTitleB, yTitleX: 48, yTitleY: 210, yTitleSize: 26.5,
    xTitleX: 330, xTitleY: 507, xTitleSize: 28.5 });
</script>
</body>
</html>
